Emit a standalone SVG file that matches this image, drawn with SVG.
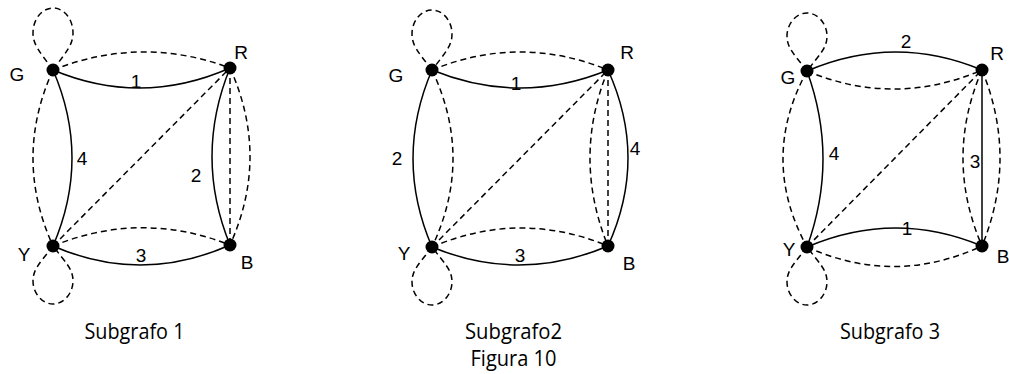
<svg xmlns="http://www.w3.org/2000/svg" width="1009" height="374" viewBox="0 0 1009 374">
<style>
.bg{fill:#ffffff}
.s{fill:none;stroke:#000;stroke-width:1.5}
.d{fill:none;stroke:#000;stroke-width:1.5;stroke-dasharray:6 4}
.n{fill:#000}
.lbl{font-family:"Liberation Sans",Arial,sans-serif;font-size:19px;fill:#000;text-anchor:middle}
.cap{font-family:"Open Sans","Noto Sans",sans-serif;font-size:21px;fill:#000;text-anchor:middle}
</style>
<rect class="bg" x="0" y="0" width="1009" height="374"/>
<g id="connectors">
  <!-- Subgrafo 1 -->
  <path class="s" d="M53,70 Q141.5,107 230,68"/>
  <path class="s" d="M53,70 Q91,158 53,246"/>
  <path class="s" d="M230,68 Q194,156.5 230,245"/>
  <path class="s" d="M53,246 Q141.5,284.5 230,245"/>
  <path class="d" d="M53,70 Q141.5,35 230,68"/>
  <path class="d" d="M53,70 Q13,158 53,246"/>
  <path class="d" d="M230,68 L230,245"/>
  <path class="d" d="M230,68 Q270,156.5 230,245"/>
  <path class="d" d="M53,246 L230,68"/>
  <path class="d" d="M53,246 Q141.5,210 230,245"/>
  <path class="d" d="M53,70 C40,52 33,45 33,33 C33,19 42,8 53,8 C64,8 73,19 73,33 C73,45 66,52 53,70"/>
  <path class="d" d="M53,246 C40,263 33,269 33,281 C33,293 42,304 53,304 C64,304 73,293 73,281 C73,269 66,263 53,246"/>
  <!-- Subgrafo 2 -->
  <path class="s" d="M432,70 Q520,106 608,70"/>
  <path class="s" d="M432,70 Q394,158.5 432,247"/>
  <path class="s" d="M608,70 Q648,158 608,246"/>
  <path class="s" d="M432,247 Q520,283.5 608,246"/>
  <path class="d" d="M432,70 Q520,34 608,70"/>
  <path class="d" d="M432,70 Q474,158.5 432,247"/>
  <path class="d" d="M608,70 Q572,158 608,246"/>
  <path class="d" d="M608,70 L608,246"/>
  <path class="d" d="M432,247 L608,70"/>
  <path class="d" d="M432,247 Q520,209.5 608,246"/>
  <path class="d" d="M432,70 C419,53 412,46 412,34 C412,21 421,10 432,10 C443,10 452,21 452,34 C452,46 445,53 432,70"/>
  <path class="d" d="M432,247 C419,264 412,270 412,282 C412,294 421,305 432,305 C443,305 452,294 452,282 C452,270 445,264 432,247"/>
  <!-- Subgrafo 3 -->
  <path class="s" d="M807,71 Q894.5,33.5 982,70"/>
  <path class="s" d="M807,71 Q839,159 807,247"/>
  <path class="s" d="M982,70 L982,246"/>
  <path class="s" d="M807,247 Q894.5,209.5 982,246"/>
  <path class="d" d="M807,71 Q894.5,107.5 982,70"/>
  <path class="d" d="M807,71 Q759,159 807,247"/>
  <path class="d" d="M982,70 Q944,158 982,246"/>
  <path class="d" d="M982,70 Q1018,158 982,246"/>
  <path class="d" d="M807,247 L982,70"/>
  <path class="d" d="M807,247 Q894.5,286.5 982,246"/>
  <path class="d" d="M807,71 C794,54 787,48 787,36 C787,24 796,13 807,13 C818,13 827,24 827,36 C827,48 820,54 807,71"/>
  <path class="d" d="M807,247 C794,264 787,270 787,282 C787,294 796,305 807,305 C818,305 827,294 827,282 C827,270 820,264 807,247"/>
</g>
<g id="edge-labels">
  <text class="lbl" x="136" y="88">1</text>
  <text class="lbl" x="82" y="165">4</text>
  <text class="lbl" x="196" y="182">2</text>
  <text class="lbl" x="141" y="262">3</text>
  <text class="lbl" x="516" y="90">1</text>
  <text class="lbl" x="397" y="165">2</text>
  <text class="lbl" x="635" y="155">4</text>
  <text class="lbl" x="520" y="262">3</text>
  <text class="lbl" x="906" y="48">2</text>
  <text class="lbl" x="834" y="160">4</text>
  <text class="lbl" x="975" y="168">3</text>
  <text class="lbl" x="907" y="235">1</text>
</g>
<g id="s1-G"><circle class="n" cx="53" cy="70" r="6.5"/><text class="lbl" x="17" y="81">G</text></g>
<g id="s1-R"><circle class="n" cx="230" cy="68" r="6.5"/><text class="lbl" x="241" y="59">R</text></g>
<g id="s1-Y"><circle class="n" cx="53" cy="246" r="6.5"/><text class="lbl" x="24" y="261">Y</text></g>
<g id="s1-B"><circle class="n" cx="230" cy="245" r="6.5"/><text class="lbl" x="247" y="269">B</text></g>
<g id="s2-G"><circle class="n" cx="432" cy="70" r="6.5"/><text class="lbl" x="396" y="82">G</text></g>
<g id="s2-R"><circle class="n" cx="608" cy="70" r="6.5"/><text class="lbl" x="627" y="59">R</text></g>
<g id="s2-Y"><circle class="n" cx="432" cy="247" r="6.5"/><text class="lbl" x="404" y="260">Y</text></g>
<g id="s2-B"><circle class="n" cx="608" cy="246" r="6.5"/><text class="lbl" x="629" y="270">B</text></g>
<g id="s3-G"><circle class="n" cx="807" cy="71" r="6.5"/><text class="lbl" x="788" y="84">G</text></g>
<g id="s3-R"><circle class="n" cx="982" cy="70" r="6.5"/><text class="lbl" x="997" y="60">R</text></g>
<g id="s3-Y"><circle class="n" cx="807" cy="247" r="6.5"/><text class="lbl" x="789" y="256">Y</text></g>
<g id="s3-B"><circle class="n" cx="982" cy="246" r="6.5"/><text class="lbl" x="1003" y="263">B</text></g>
<g id="captions">
  <text class="cap" x="134.5" y="339" textLength="100" lengthAdjust="spacingAndGlyphs">Subgrafo 1</text>
  <text class="cap" x="513.5" y="339" textLength="97" lengthAdjust="spacingAndGlyphs">Subgrafo2</text>
  <text class="cap" x="890" y="339" textLength="100" lengthAdjust="spacingAndGlyphs">Subgrafo 3</text>
  <text class="cap" x="513.5" y="366" textLength="86" lengthAdjust="spacingAndGlyphs">Figura 10</text>
</g>
</svg>
